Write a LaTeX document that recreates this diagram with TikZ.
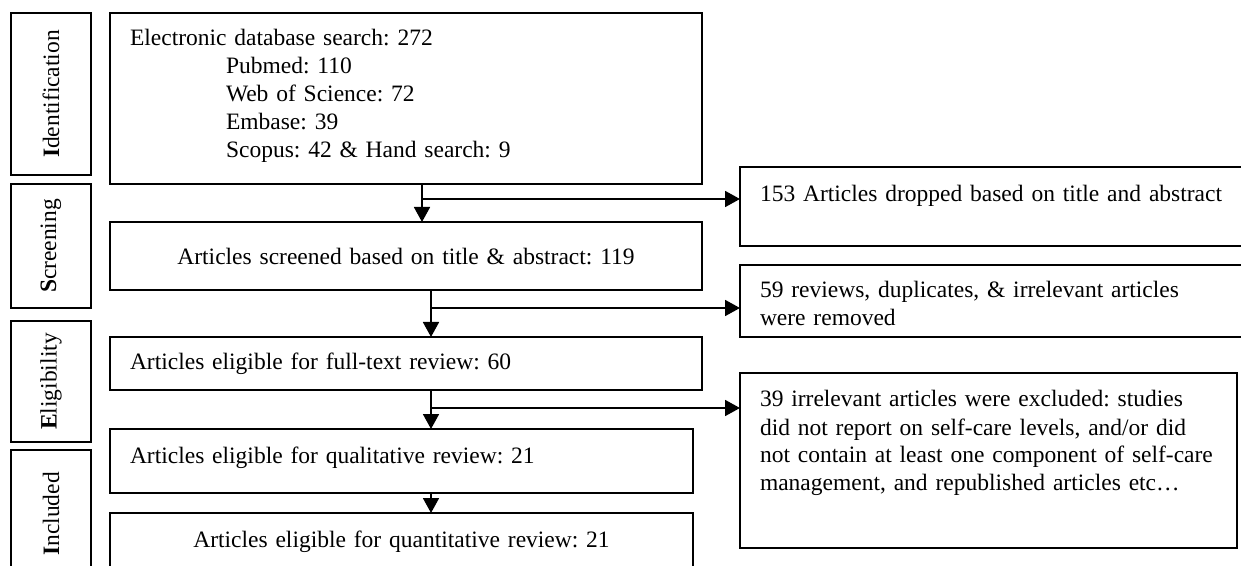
\documentclass[tikz,border=0pt]{standalone}
\usepackage{fontspec}
\setmainfont{Liberation Serif}
\usetikzlibrary{positioning}
\usetikzlibrary{calc}
\usetikzlibrary{arrows.meta}
\tikzset{
	pbox/.style={draw, line width=0.9pt, anchor=north west, inner xsep=10pt, inner ysep=0pt, outer sep=0pt,
		font=\fontsize{11.75}{14}\selectfont\frenchspacing, align=left},
	stagebox/.style={draw, line width=0.9pt, rotate=90, inner sep=0pt, outer sep=0pt, minimum height=40pt,
		font=\fontsize{11.75}{14}\selectfont},
	arr/.style={line width=0.9pt, -{Triangle[length=7.5pt,width=8pt]}},
}

\begin{document}
\begin{tikzpicture}[x=0.5pt,y=-0.5pt]
		\useasboundingbox (0,0) rectangle (1241,566);
		\clip (0,0) rectangle (1241,566);
		
		% stages on the left.....................
		\node [stagebox, minimum width=81pt] (ident) at (51,94) {{\bfseries I}dentification};
		\node [stagebox, minimum width=62pt] (screen) at (51,246) {{\bfseries S}creening};
		\node [stagebox, minimum width=60.5pt] (elig) at (51,381.5) {{\bfseries E}ligibility};
		\node [stagebox, minimum width=64pt] (incl) at (51,514) {{\bfseries I}ncluded};
		
		% main column.............................
		\node [pbox, text width=276pt, text height=16.5pt, text depth=69pt] (db) at (110,13)
			{Electronic database search: 272\\
			\hspace*{48pt}Pubmed: 110\\
			\hspace*{48pt}Web of Science: 72\\
			\hspace*{48pt}Embase: 39\\
			\hspace*{48pt}Scopus: 42 \& Hand search: 9};
		\node [pbox, align=center, text width=276pt, text height=21.5pt, text depth=12.5pt] (scr) at (110,222)
			{Articles screened based on title \& abstract: 119};
		\node [pbox, text width=276pt, text height=16.5pt, text depth=10pt] (full) at (110,337)
			{Articles eligible for full-text review: 60};
		\node [pbox, text width=271.5pt, text height=17pt, text depth=15pt] (qual) at (110,429)
			{Articles eligible for qualitative review: 21};
		\node [pbox, align=center, text width=271.5pt, text height=17pt, text depth=15pt] (quant) at (110,513)
			{Articles eligible for quantitative review: 21};
		
		% excluded records on the right...........
		\node [pbox, text width=240pt, text height=17.5pt, text depth=22pt] (drop1) at (740,167)
			{153 Articles dropped based on title and abstract};
		\node [pbox, text width=240pt, text height=16.5pt, text depth=19.5pt] (drop2) at (740,265)
			{59 reviews, duplicates, \& irrelevant articles\\ were removed};
		\node [pbox, text width=228.5pt, text height=17pt, text depth=70.5pt] (drop3) at (740,373)
			{39 irrelevant articles were excluded: studies\\
			did not report on self-care levels, and/or did\\
			not contain at least one component of self-care\\
			management, and republished articles etc\dots};
		
		% split points...........................
		\coordinate (s1) at (422,199);
		\coordinate (s2) at (431,308);
		\coordinate (s3) at (431,408);
		
		% arrows down............................
		\draw [arr] (db.south -| s1) -- (scr.north -| s1);
		\draw [arr] (scr.south -| s2) -- (full.north -| s2);
		\draw [arr] (full.south -| s3) -- (qual.north -| s3);
		\draw [arr] (qual.south -| s3) -- (quant.north -| s3);
		
		% arrows to the right.....................
		\draw [arr] (s1) -- (drop1.west |- s1);
		\draw [arr] (s2) -- (drop2.west |- s2);
		\draw [arr] (s3) -- (drop3.west |- s3);
		
	\end{tikzpicture}
\end{document}
